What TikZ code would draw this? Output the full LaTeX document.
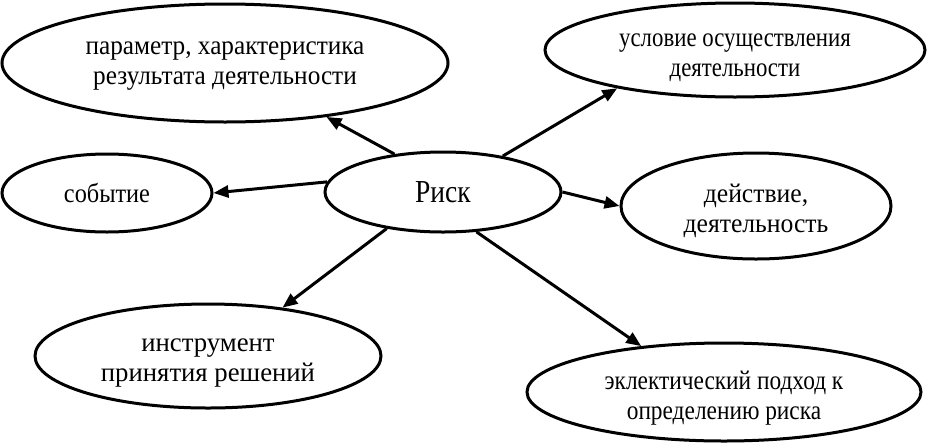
\documentclass[tikz,border=0pt]{standalone}
\usepackage{fontspec}
\setmainfont{Liberation Serif}
\usetikzlibrary{shapes.geometric,arrows.meta}
\tikzset{
  bubble/.style={draw=black, line width=3pt, ellipse, inner sep=0pt, fill=white},
  txt/.style={align=center, inner sep=0pt, font=\fontsize{27}{30}\selectfont},
  link/.style={line width=3pt, -{Triangle[length=15pt,width=12pt]}}
}
\newcommand{\stretchto}[1]{\addfontfeature{FakeStretch=#1}}
\begin{document}
\begin{tikzpicture}[x=1pt,y=-1pt]
\useasboundingbox (0,0) rectangle (928,445);
\node[bubble, minimum width=446pt, minimum height=118pt] (tl) at (225,63) {};
\node[bubble, minimum width=380pt, minimum height=94pt] (tr) at (735,50) {};
\node[bubble, minimum width=210pt, minimum height=78pt] (ev) at (107,193) {};
\node[bubble, minimum width=236pt, minimum height=80pt] (risk) at (443,192) {};
\node[bubble, minimum width=270pt, minimum height=106pt] (act) at (756,206) {};
\node[bubble, minimum width=346pt, minimum height=104pt] (ins) at (208,356) {};
\node[bubble, minimum width=394pt, minimum height=98pt] (ecl) at (724,392) {};
\node[txt, yshift=-3pt] (tlt) at (tl) {\stretchto{0.935}параметр, характеристика\\\stretchto{0.935}результата деятельности};
\node[txt, yshift=-8pt] (trt) at (tr) {\stretchto{0.845}условие осуществления\\\stretchto{0.845}деятельности};
\node[txt] (evt) at (ev) {\stretchto{0.9}событие};
\node[txt, font=\fontsize{32}{34}\selectfont] (riskt) at (risk) {\stretchto{0.86}Риск};
\node[txt, yshift=-5pt] (actt) at (act) {\stretchto{0.95}действие,\\\stretchto{0.95}деятельность};
\node[txt, yshift=-7pt] (inst) at (ins) {\stretchto{0.99}инструмент\\\stretchto{0.99}принятия решений};
\node[txt, yshift=-6pt] (eclt) at (ecl) {\stretchto{0.865}эклектический подход к\\\stretchto{0.865}определению риска};
\draw[link] (risk.142) -- (tl.-28);
\draw[link] (risk.175) -- (ev.0);
\draw[link] (risk.31) -- (tr.-162);
\draw[link] (risk.0) -- (act.180);
\draw[link] (risk.-147) -- (ins.33);
\draw[link] (risk.-50) -- (ecl.151);
\end{tikzpicture}
\end{document}
